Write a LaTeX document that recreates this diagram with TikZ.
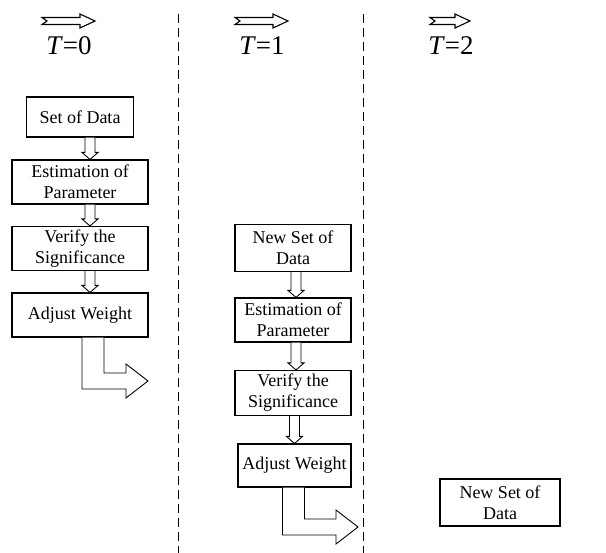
\documentclass[tikz,border=0pt]{standalone}
\usepackage{fontspec}
\setmainfont{Liberation Serif}
\usetikzlibrary{calc}
% #1 upper node, #2 lower node, #3 x offset from the node centre
\newcommand\connarr[3]{%
  \draw[hol] let \p1=($(#1.south)+(#3,0)$), \p2=($(#2.north)+(#3,0)$) in
   (\x1-5pt,\y1) -- (\x1-5pt,\y2+7pt) -- (\x1-8pt,\y2+7pt) -- (\x1,\y2)
   -- (\x1+8pt,\y2+7pt) -- (\x1+5pt,\y2+7pt) -- (\x1+5pt,\y1);}
% #1 node, #2 tip coordinate, #3 x offset of the stem centre
\newcommand\bentarr[3]{%
  \draw[hol] let \p1=($(#1.south)+(#3,0)$), \p2=(#2) in
   (\x1-11pt,\y1) -- (\x1-11pt,\y2-8pt) -- (\x2-22pt,\y2-8pt) -- (\x2-22pt,\y2-17pt)
   -- (\x2,\y2) -- (\x2-22pt,\y2+17pt) -- (\x2-22pt,\y2+8pt) -- (\x1+11pt,\y2+8pt)
   -- (\x1+11pt,\y1);}
\newcommand\toparr[3]{%
  \draw[hol,line width=1.1pt] (#1,#3-3.5) -- (#2-15,#3-3.5) -- (#2-15,#3-7) -- (#2,#3)
   -- (#2-15,#3+7) -- (#2-15,#3+3.5) -- (#1,#3+3.5) -- (#1+5,#3) -- cycle;}
\begin{document}
\begin{tikzpicture}[x=1pt,y=-1pt,
  box/.style={draw,line width=1.1pt,align=center,inner sep=0pt,
    font=\fontsize{18}{21}\selectfont},
  hol/.style={draw,line width=0.9pt,fill=white,line join=miter},
  sep/.style={dash pattern=on 9pt off 5pt,line width=1pt},
  lbl/.style={font=\fontsize{27}{30}\selectfont}]
\useasboundingbox[fill=white] (0,0) rectangle (606,553);
% separators
\draw[sep] (178,14) -- (178,553);
\draw[sep] (363,14) -- (363,553);
% time labels
\toparr{42}{95}{21}
\toparr{235}{288}{21}
\toparr{430}{470}{21}
\node[lbl] (t0) at (69,46) {\textit{T}=0};
\node[lbl] (t1) at (262,46) {\textit{T}=1};
\node[lbl] (t2) at (451,46) {\textit{T}=2};
% column T=0
\node[box,minimum width=107pt,minimum height=40pt] (sd0) at (80,117) {Set of Data};
\node[box,minimum width=136pt,minimum height=44pt] (ep0) at (80,182) {Estimation of\\Parameter};
\node[box,minimum width=136pt,minimum height=44pt] (vs0) at (80,248.5) {Verify the\\Significance};
\node[box,minimum width=136pt,minimum height=44pt] (aw0) at (80,315) {Adjust Weight};
\connarr{sd0}{ep0}{10}
\connarr{ep0}{vs0}{10}
\connarr{vs0}{aw0}{10}
\coordinate (tip0) at (148,381);
\bentarr{aw0}{tip0}{13}
% column T=1
\node[box,minimum width=116pt,minimum height=47pt] (nsd1) at (293,248) {New Set of\\Data};
\node[box,minimum width=116pt,minimum height=44pt] (ep1) at (293,320) {Estimation of\\Parameter};
\node[box,minimum width=116pt,minimum height=45pt] (vs1) at (293,393) {Verify the\\Significance};
\node[box,minimum width=113pt,minimum height=43pt] (aw1) at (294.5,465.5) {Adjust Weight};
\connarr{nsd1}{ep1}{3}
\connarr{ep1}{vs1}{3}
\connarr{vs1}{aw1}{1.5}
\coordinate (tip1) at (358,527);
\bentarr{aw1}{tip1}{-1}
% column T=2
\node[box,minimum width=120pt,minimum height=47pt] (nsd2) at (500,502.5) {New Set of\\Data};
\end{tikzpicture}
\end{document}
